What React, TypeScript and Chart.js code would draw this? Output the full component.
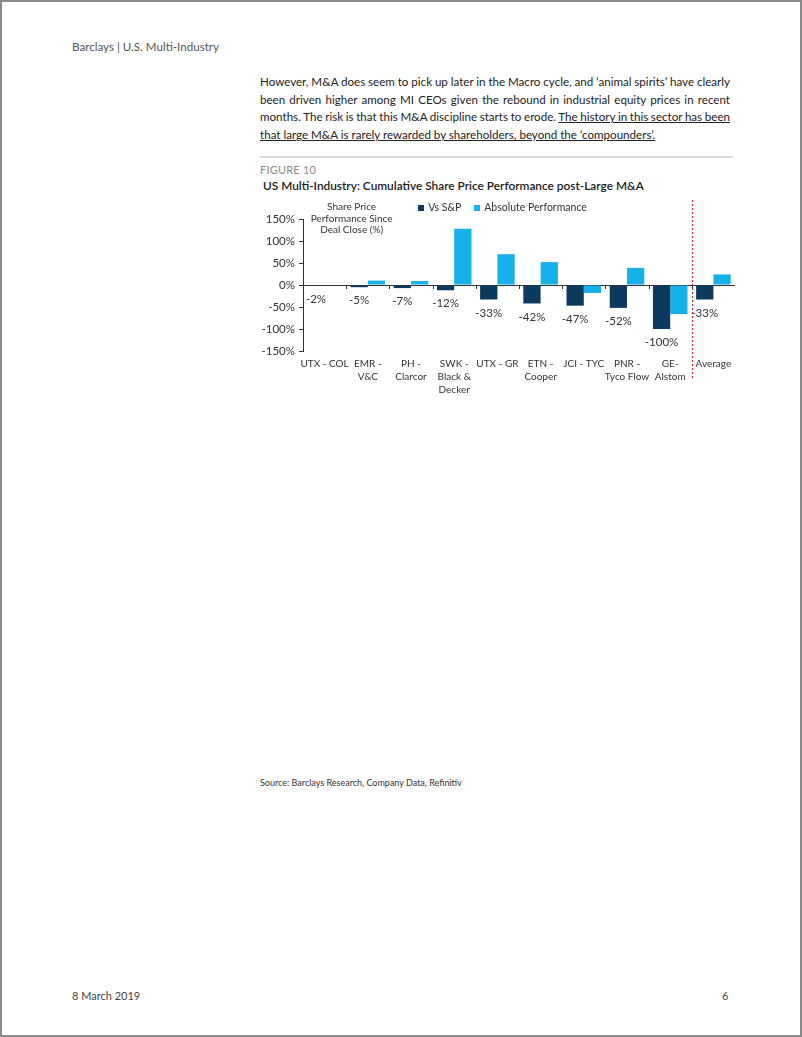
import React, { useEffect, useRef } from 'react';
import { Chart, registerables } from 'chart.js';

Chart.register(...registerables);

const categories: (string | string[])[] = [
  'UTX - COL',
  ['EMR -', 'V&C'],
  ['PH -', 'Clarcor'],
  ['SWK -', 'Black &', 'Decker'],
  'UTX - GR',
  ['ETN -', 'Cooper'],
  'JCI - TYC',
  ['PNR -', 'Tyco Flow'],
  ['GE-', 'Alstom'],
  'Average',
];
const seriesNames = ['Vs S&P', 'Absolute Performance'];
const vsSP = [-2, -5, -7, -12, -33, -42, -47, -52, -100, -33];
const absolutePerf = [0, 10, 9, 128, 70, 52, -18, 39, -66, 24];
const yMin = -150;
const yMax = 150;
const yStep = 50;
const yTitleLines = ['Share Price', 'Performance Since', 'Deal Close (%)'];
const dividerAfterIndex = 8;

const FONT = 'Lato, "Open Sans", sans-serif';
const DARK = '#0b3a5e';
const LIGHT = '#14b1ea';

const overlayPlugin = {
  id: 'overlay',
  afterDatasetsDraw(chart: any) {
    const { ctx, chartArea, scales } = chart;
    const x = scales.x;
    const y = scales.y;
    const y0 = y.getPixelForValue(0);
    ctx.save();
    // category boundary ticks on the zero line
    ctx.strokeStyle = '#333';
    ctx.lineWidth = 1;
    const n = categories.length;
    for (let i = 1; i < n; i++) {
      const bx = Math.round((x.getPixelForValue(i - 1) + x.getPixelForValue(i)) / 2) + 0.5;
      ctx.beginPath();
      ctx.moveTo(bx, y0);
      ctx.lineTo(bx, y0 + 4);
      ctx.stroke();
    }
    // data labels for Vs S&P
    const meta = chart.getDatasetMeta(0);
    ctx.fillStyle = '#333';
    ctx.font = `11.5px ${FONT}`;
    ctx.textAlign = 'center';
    ctx.textBaseline = 'middle';
    meta.data.forEach((el: any, i: number) => {
      ctx.fillText(`${vsSP[i]}%`, el.x, el.y + 13.5);
    });
    // y-axis title block
    ctx.font = `10px ${FONT}`;
    ctx.fillStyle = '#333';
    const tx = x.getPixelForValue(0) + 27;
    yTitleLines.forEach((line, i) => {
      ctx.fillText(line, tx, chartArea.top - 12 + i * 11.3);
    });
    // legend
    ctx.font = `10.5px ${FONT}`;
    ctx.textAlign = 'left';
    const items = chart.data.datasets.map((d: any) => ({
      label: d.label as string,
      color: d.backgroundColor as string,
      w: 6 + 4 + ctx.measureText(d.label).width,
    }));
    const gap = 13;
    const total = items.reduce((s: number, it: any) => s + it.w, 0) + gap * (items.length - 1);
    let lx = chart.width / 2 - total / 2;
    const ly = chartArea.top - 11;
    items.forEach((it: any) => {
      ctx.fillStyle = it.color;
      ctx.fillRect(Math.round(lx), Math.round(ly - 3), 6, 6);
      ctx.fillStyle = '#333';
      ctx.fillText(it.label, lx + 10, ly);
      lx += it.w + gap;
    });
    // red dashed divider
    const dx = Math.round((x.getPixelForValue(dividerAfterIndex) + x.getPixelForValue(dividerAfterIndex + 1)) / 2) + 0.5;
    ctx.strokeStyle = '#e02020';
    ctx.setLineDash([2, 2]);
    ctx.beginPath();
    ctx.moveTo(dx, chartArea.top - 19);
    ctx.lineTo(dx, chartArea.bottom + 29);
    ctx.stroke();
    ctx.restore();
  },
};

function ChartBox() {
  const ref = useRef<HTMLCanvasElement | null>(null);
  useEffect(() => {
    if (!ref.current) return;
    Chart.defaults.font.family = FONT;
    const chart = new Chart(ref.current, {
      type: 'bar',
      data: {
        labels: categories,
        datasets: [
          { label: seriesNames[0], data: vsSP, backgroundColor: DARK, borderWidth: 0 },
          { label: seriesNames[1], data: absolutePerf, backgroundColor: LIGHT, borderWidth: 0 },
        ],
      },
      options: {
        animation: false,
        responsive: false,
        devicePixelRatio: 1,
        layout: { padding: { left: 7, right: 15, top: 29, bottom: 0 } },
        datasets: { bar: { categoryPercentage: 0.8, barPercentage: 1.0 } },
        plugins: {
          legend: { display: false },
          tooltip: { enabled: false },
        },
        scales: {
          x: {
            grid: { display: false, drawTicks: false },
            border: { display: false },
            ticks: {
              color: '#333',
              font: { size: 10, family: FONT, lineHeight: 1.3 },
              maxRotation: 0,
              autoSkip: false,
              padding: 6,
            },
            afterFit: (s: any) => { s.height = 49; },
          },
          y: {
            min: yMin,
            max: yMax,
            ticks: {
              stepSize: yStep,
              color: '#333',
              font: { size: 11.5, family: FONT },
              padding: 4,
              callback: (v: any) => `${v}%`,
            },
            grid: {
              color: (c: any) => (c.tick && c.tick.value === 0 ? '#333' : 'rgba(0,0,0,0)'),
              tickColor: '#333',
              tickLength: 4,
              lineWidth: 1,
            },
            border: { display: true, color: '#333', width: 1 },
            afterFit: (s: any) => { s.width = 41; },
          },
        },
      },
      plugins: [overlayPlugin],
    });
    return () => chart.destroy();
  }, []);
  return (
    <canvas
      ref={ref}
      width={495}
      height={210}
      style={{ position: 'absolute', left: 255, top: 190, width: 495, height: 210 }}
    />
  );
}

const abs = (left: number, top: number, extra: React.CSSProperties = {}): React.CSSProperties => ({
  position: 'absolute',
  left,
  top,
  whiteSpace: 'nowrap',
  ...extra,
});

export default function App() {
  const bodyStyle: React.CSSProperties = {
    position: 'absolute',
    left: 260,
    width: 470,
    height: 17.7,
    lineHeight: '17.7px',
    fontSize: 11.6,
    color: '#222',
    textAlign: 'justify',
    whiteSpace: 'nowrap',
  };
  const just: React.CSSProperties = {
    ...bodyStyle,
    textAlignLast: 'justify' as any,
    wordSpacing: -1.5,
  };
  return (
    <div
      style={{
        position: 'fixed',
        left: 0,
        top: 0,
        width: 802,
        height: 1037,
        boxSizing: 'border-box',
        border: '2px solid #8a8a8a',
        background: '#fff',
        fontFamily: FONT,
        overflow: 'hidden',
      }}
    >
      <div style={{ position: 'absolute', left: -2, top: -2, width: 802, height: 1037 }}>
        <div style={abs(72, 39, { fontSize: 11.6, color: '#555', lineHeight: '16px' })}>Barclays | U.S. Multi-Industry</div>

        <div style={{ ...just, top: 73 }}>However, M&amp;A does seem to pick up later in the Macro cycle, and ‘animal spirits’ have clearly</div>
        <div style={{ ...just, top: 90.7 }}>been driven higher among MI CEOs given the rebound in industrial equity prices in recent</div>
        <div style={{ ...just, top: 108.4 }}>
          months. The risk is that this M&amp;A discipline starts to erode. <span style={{ textDecoration: 'underline' }}>The history in this sector has been</span>
        </div>
        <div style={{ ...bodyStyle, top: 126.1, textDecoration: 'underline' }}>
          that large M&amp;A is rarely rewarded by shareholders, beyond the ‘compounders’.
        </div>

        <div style={{ position: 'absolute', left: 260, top: 156, width: 473, height: 1.5, background: '#d8d8d8' }} />
        <div style={abs(260, 162, { fontSize: 11, color: '#8a8a8a', lineHeight: '16px', letterSpacing: 0.2 })}>FIGURE 10</div>
        <div style={abs(263, 178, { fontSize: 11.85, fontWeight: 600, color: '#1a1a1a', lineHeight: '16px' })}>
          US Multi-Industry: Cumulative Share Price Performance post-Large M&amp;A
        </div>

        <ChartBox />

        <div style={abs(260, 776, { fontSize: 9, color: '#333', lineHeight: '14px' })}>
          Source: Barclays Research, Company Data, Refinitiv
        </div>

        <div style={abs(72, 989, { fontSize: 11, color: '#444', lineHeight: '14px' })}>8 March 2019</div>
        <div style={abs(722, 989, { fontSize: 11, color: '#444', lineHeight: '14px' })}>6</div>
      </div>
    </div>
  );
}
